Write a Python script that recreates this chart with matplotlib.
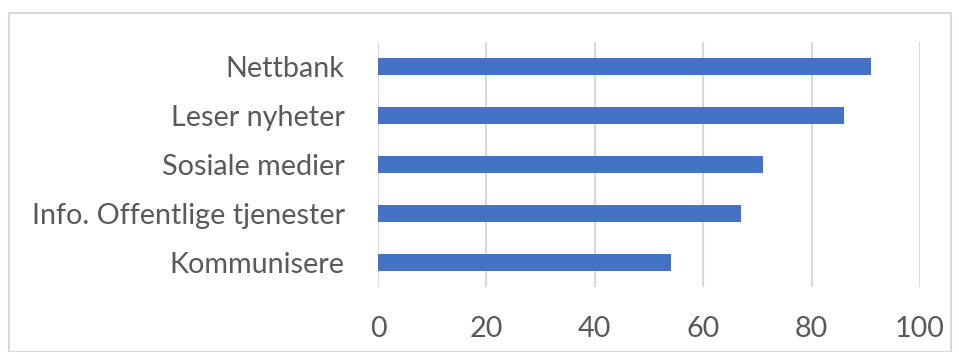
import matplotlib
matplotlib.use("Agg")
import matplotlib.pyplot as plt
from matplotlib.patches import Rectangle

categories = ["Kommunisere", "Info. Offentlige tjenester", "Sosiale medier", "Leser nyheter", "Nettbank"]
values = [54, 67, 71, 86, 91]
xticks = [0, 20, 40, 60, 80, 100]

plt.rcParams['font.family'] = ['Lato', 'DejaVu Sans']

W, H = 959, 352
fig = plt.figure(figsize=(W/100, H/100), dpi=100)
fig.patches.append(Rectangle((9/W, 0), (951-9)/W, 1 - 13/H, transform=fig.transFigure,
                             fill=False, edgecolor="#d9d9d9", linewidth=1.5))
ax = fig.add_axes([378/W, 1-287/H, (920-378)/W, (287-42)/H])
ax.barh(range(len(categories)), values, height=0.35, color="#4472C4", zorder=3)
ax.set_yticks(range(len(categories)))
ax.set_yticklabels(categories)
ax.set_xticks(xticks)
ax.set_xlim(0, 100)
ax.set_ylim(-0.5, len(categories)-0.5)
ax.grid(axis="x", color="#d9d9d9", linewidth=1.5, zorder=0)
for s in ax.spines.values():
    s.set_visible(False)
ax.tick_params(axis="both", length=0, colors="#595959", labelsize=20.7)
ax.tick_params(axis="y", pad=24)
ax.tick_params(axis="x", pad=21)
fig.savefig("out.png", dpi=100)
